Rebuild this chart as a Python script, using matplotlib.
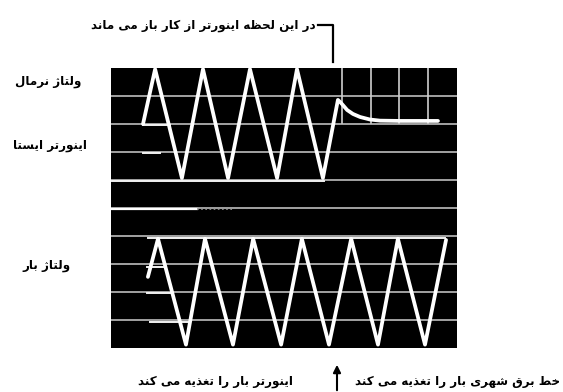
import matplotlib
matplotlib.use('Agg')
import matplotlib.pyplot as plt
from matplotlib.lines import Line2D

# texts, logical order
top_note = 'در این لحظه اینورتر از کار باز می ماند'
lbl_normal = 'ولتاژ نرمال'
lbl_standby = 'اینورتر ایستا'
lbl_load = 'ولتاژ بار'
note_inverter = 'اینورتر بار را تغذیه می کند'
note_mains = 'خط برق شهری بار را تغذیه می کند'

# traces in graticule divisions (x: 0..12, y: 0..10)
normal_x = [1.11, 1.53, 2.46, 3.19, 4.06, 4.82, 5.76, 6.45, 7.35, 7.87,
            7.98, 8.19, 8.39, 8.64, 8.98, 9.33, 10.02, 11.34]
normal_y = [8.0, 9.96, 6.07, 9.96, 6.07, 9.96, 6.07, 9.96, 6.07, 8.86,
            8.75, 8.5, 8.36, 8.25, 8.16, 8.12, 8.11, 8.11]

load_x = [1.28, 1.63, 2.60, 3.26, 4.23, 4.93, 5.90, 6.62, 7.56, 8.33,
          9.26, 9.95, 10.89, 11.62]
load_y = [2.54, 3.90, 0.12, 3.90, 0.12, 3.90, 0.12, 3.90, 0.12, 3.90,
          0.12, 3.90, 0.12, 3.86]

standby_x = [0.03, 2.98]
standby_y = [4.95, 4.95]

# short bright pieces along the graticule at the start of the sweeps
stub_x0 = [1.11, 1.11, 0.03, 1.25, 1.25, 1.35, 1.28]
stub_x1 = [2.05, 1.70, 7.40, 1.80, 2.05, 2.74, 11.6]
stub_y = [7.96, 6.95, 5.98, 2.90, 1.96, 0.94, 3.93]

# presentation forms: isolated, final, initial, medial
FORMS = {
    'ا': ('\ufe8d', '\ufe8e'), 'د': ('\ufea9', '\ufeaa'),
    'ذ': ('\ufeab', '\ufeac'), 'ر': ('\ufead', '\ufeae'),
    'ز': ('\ufeaf', '\ufeb0'), 'ژ': ('\ufb8a', '\ufb8b'),
    'و': ('\ufeed', '\ufeee'),
    'ب': ('\ufe8f', '\ufe90', '\ufe91', '\ufe92'),
    'ت': ('\ufe95', '\ufe96', '\ufe97', '\ufe98'),
    'ح': ('\ufea1', '\ufea2', '\ufea3', '\ufea4'),
    'خ': ('\ufea5', '\ufea6', '\ufea7', '\ufea8'),
    'س': ('\ufeb1', '\ufeb2', '\ufeb3', '\ufeb4'),
    'ش': ('\ufeb5', '\ufeb6', '\ufeb7', '\ufeb8'),
    'ط': ('\ufec1', '\ufec2', '\ufec3', '\ufec4'),
    'ظ': ('\ufec5', '\ufec6', '\ufec7', '\ufec8'),
    'غ': ('\ufecd', '\ufece', '\ufecf', '\ufed0'),
    'ق': ('\ufed5', '\ufed6', '\ufed7', '\ufed8'),
    'ک': ('\ufb8e', '\ufb8f', '\ufb90', '\ufb91'),
    'ل': ('\ufedd', '\ufede', '\ufedf', '\ufee0'),
    'م': ('\ufee1', '\ufee2', '\ufee3', '\ufee4'),
    'ن': ('\ufee5', '\ufee6', '\ufee7', '\ufee8'),
    'ه': ('\ufee9', '\ufeea', '\ufeeb', '\ufeec'),
    'ی': ('\ufbfc', '\ufbfd', '\ufbfe', '\ufbff'),
}


def shape(s):
    # matplotlib does no arabic shaping / rtl, do it by hand
    s = s.replace('\u064a', '\u06cc').replace('\u0643', '\u06a9')
    out = []
    for i, c in enumerate(s):
        f = FORMS.get(c)
        if f is None:
            out.append(c)
            continue
        prev = s[i - 1] if i > 0 else ''
        nxt = s[i + 1] if i + 1 < len(s) else ''
        a = prev in FORMS and len(FORMS[prev]) == 4
        b = len(f) == 4 and nxt in FORMS
        if b:
            k = 3 if a else 2
        else:
            k = 1 if a else 0
        out.append(f[k])
    return ''.join(out[::-1])


W, H = 563, 392
fig = plt.figure(figsize=(W / 100, H / 100), dpi=100)
ax = fig.add_axes([111 / W, 1 - 348 / H, 346 / W, 280 / H])
ax.set_facecolor('black')
ax.set_xlim(0, 12)
ax.set_ylim(0, 10)
ax.set_xticks([])
ax.set_yticks([])
for sp in ax.spines.values():
    sp.set_visible(False)

for yy in range(1, 10):
    ax.axhline(yy, color='#bdbdbd', lw=1.2)
for xx in [8, 9, 10, 11]:
    ax.plot([xx, xx], [8.05, 10], color='#cfcfcf', lw=1.2)

for x0, x1, yy in zip(stub_x0, stub_x1, stub_y):
    ax.plot([x0, x1], [yy, yy], color='#f2f2f2', lw=1.4)

ax.plot(standby_x, standby_y, color='white', lw=1.6)
ax.plot([2.98, 4.2], [4.95, 4.95], color='#9a9a9a', lw=1.2, ls=(0, (1, 1.5)))

kw = dict(color='white', lw=2.7, solid_joinstyle='round', solid_capstyle='round')
ax.plot(normal_x, normal_y, **kw)
ax.plot(load_x, load_y, **kw)

# labels
tk = dict(fontsize=8.6, fontweight='bold', family=['DejaVu Sans'], va='center')


def fx(px):
    return px / W


def fy(py):
    return 1 - py / H


fig.text(fx(316), fy(25), shape(top_note), ha='right', **tk)
fig.text(fx(48), fy(81), shape(lbl_normal), ha='center', **tk)
fig.text(fx(50), fy(146), shape(lbl_standby), ha='center', **tk)
fig.text(fx(47), fy(266), shape(lbl_load), ha='center', **tk)
fig.text(fx(216), fy(382), shape(note_inverter), ha='center', **tk)
fig.text(fx(560), fy(382), shape(note_mains), ha='right', **tk)

fig.add_artist(Line2D([fx(318), fx(333), fx(333)], [fy(25), fy(25), fy(62)],
                      color='black', lw=1.6))
ax.annotate('', xy=(fx(337), fy(362)), xytext=(fx(337), fy(393)),
            xycoords='figure fraction', textcoords='figure fraction',
            arrowprops=dict(arrowstyle='-|>', color='black', lw=1.5,
                            mutation_scale=11))

fig.savefig('out.png', dpi=100, facecolor='white')
